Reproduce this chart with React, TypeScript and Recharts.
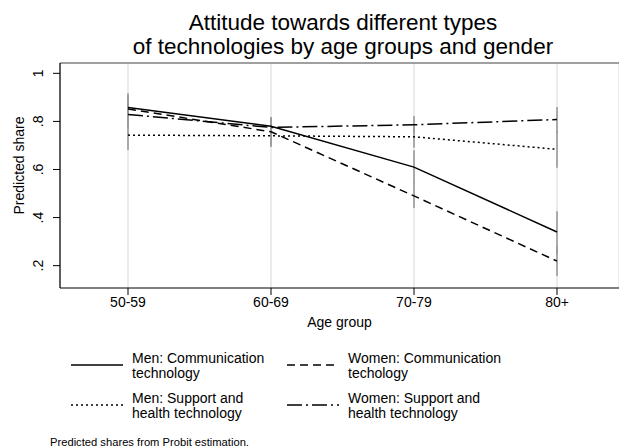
import React from 'react';
import { LineChart, Line, XAxis, YAxis, CartesianGrid, ErrorBar, ReferenceLine } from 'recharts';

const categories = ['50-59', '60-69', '70-79', '80+'];
const menComm = [0.858, 0.780, 0.610, 0.340];
const womenComm = [0.852, 0.757, 0.490, 0.219];
const menSupport = [0.743, 0.740, 0.736, 0.684];
const womenSupport = [0.829, 0.775, 0.786, 0.808];

const menCommLow = [0.80, 0.735, 0.545, 0.25];
const menCommHigh = [0.917, 0.818, 0.68, 0.426];
const womenCommLow = [0.79, 0.70, 0.44, 0.157];
const womenCommHigh = [0.91, 0.81, 0.55, 0.28];
const menSupportLow = [0.681, 0.694, 0.69, 0.607];
const menSupportHigh = [0.80, 0.785, 0.78, 0.76];
const womenSupportLow = [0.77, 0.73, 0.75, 0.75];
const womenSupportHigh = [0.89, 0.818, 0.823, 0.86];

const yTicks = [0.2, 0.4, 0.6, 0.8, 1];
const Y_MIN = 0.107;
const Y_MAX = 1.043;

const titleLines = ['Attitude towards different types', 'of technologies by age groups and gender'];

const seriesNames = [
  ['Men: Communication', 'technology'],
  ['Women: Communication', 'techology'],
  ['Men: Support and', 'health technology'],
  ['Women: Support and', 'health technology'],
];

const FONT = '"Liberation Sans", Arial, Helvetica, sans-serif';

const data = categories.map((c, i) => ({
  cat: c,
  mc: menComm[i],
  wc: womenComm[i],
  ms: menSupport[i],
  ws: womenSupport[i],
  mcErr: [menComm[i] - menCommLow[i], menCommHigh[i] - menComm[i]],
  wcErr: [womenComm[i] - womenCommLow[i], womenCommHigh[i] - womenComm[i]],
  msErr: [menSupport[i] - menSupportLow[i], menSupportHigh[i] - menSupport[i]],
  wsErr: [womenSupport[i] - womenSupportLow[i], womenSupportHigh[i] - womenSupport[i]],
}));

const fmtY = (v: number) => (v === 1 ? '1' : String(v).replace(/^0/, ''));

const YTick = (props: any) => {
  const { x, y, payload } = props;
  const bx = x - 8;
  return (
    <text x={bx} y={y} transform={`rotate(-90, ${bx}, ${y})`} textAnchor="middle" fontSize={14} fontFamily={FONT} fill="#000">
      {fmtY(payload.value)}
    </text>
  );
};

const styles = [
  { key: 'mc', dash: undefined },
  { key: 'wc', dash: '8 5' },
  { key: 'ms', dash: '2 3' },
  { key: 'ws', dash: '15 4 2 4' },
];

const LegendItem = ({ x, y, dash, lines }: any) => (
  <div style={{ position: 'absolute', left: x, top: y, width: 280, height: 32 }}>
    <svg width={60} height={32} style={{ position: 'absolute', left: 0, top: 0 }}>
      <line x1={0} x2={52} y1={15} y2={15} stroke="#000" strokeWidth={1.6} strokeDasharray={dash} />
    </svg>
    <div style={{ position: 'absolute', left: 61, top: 1, fontSize: 14, lineHeight: '15px', fontFamily: FONT, color: '#000', whiteSpace: 'nowrap' }}>
      {lines[0]}
      <br />
      {lines[1]}
    </div>
  </div>
);

export default function App() {
  return (
    <div style={{ position: 'absolute', left: 0, top: 0, width: 619, height: 448, background: '#fff', overflow: 'hidden' }}>
      <div style={{ position: 'absolute', left: 0, top: 11, width: 686, textAlign: 'center', fontSize: 22.5, lineHeight: '24px', fontFamily: FONT, color: '#000' }}>
        {titleLines[0]}
        <br />
        {titleLines[1]}
      </div>
      <div style={{ position: 'absolute', left: 0, top: 0 }}>
        <LineChart width={619} height={448} data={data} margin={{ top: 63, right: 0, bottom: 120, left: 0 }}>
          <CartesianGrid horizontal={false} vertical={true} stroke="#e4e4e4" strokeWidth={1.5} />
          <ReferenceLine y={Y_MAX} stroke="#808080" strokeWidth={1.5} ifOverflow="visible" />
          <XAxis
            dataKey="cat"
            padding={{ left: 68, right: 62 }}
            height={40}
            tickSize={7}
            tickLine={{ stroke: '#000' }}
            axisLine={{ stroke: '#000', strokeWidth: 1.2 }}
            tick={{ fontSize: 14, fontFamily: FONT, fill: '#000' }}
            interval={0}
            label={{ value: 'Age group', position: 'insideBottom', offset: 1, fontSize: 14, fontFamily: FONT, fill: '#000' }}
          />
          <YAxis
            type="number"
            domain={[Y_MIN, Y_MAX]}
            ticks={yTicks}
            width={60}
            tickSize={7}
            tickLine={{ stroke: '#000' }}
            axisLine={{ stroke: '#000', strokeWidth: 1.2 }}
            tick={<YTick />}
            allowDataOverflow
            label={{ value: 'Predicted share', angle: -90, position: 'insideLeft', offset: 19, dy: -10, style: { textAnchor: 'middle' }, fontSize: 14, fontFamily: FONT, fill: '#000' }}
          />
          {styles.map((s) => (
            <Line key={s.key + 'err'} dataKey={s.key} stroke="none" dot={false} activeDot={false} isAnimationActive={false} legendType="none">
              <ErrorBar dataKey={s.key + 'Err'} width={0} stroke="#9a9a9a" strokeWidth={1.6} direction="y" />
            </Line>
          ))}
          {styles.map((s) => (
            <Line
              key={s.key}
              dataKey={s.key}
              stroke="#000"
              strokeWidth={1.5}
              strokeDasharray={s.dash}
              dot={false}
              activeDot={false}
              isAnimationActive={false}
              type="linear"
            />
          ))}
        </LineChart>
      </div>
      <LegendItem x={71} y={350} dash={styles[0].dash} lines={seriesNames[0]} />
      <LegendItem x={287} y={350} dash={styles[1].dash} lines={seriesNames[1]} />
      <LegendItem x={71} y={390} dash={styles[2].dash} lines={seriesNames[2]} />
      <LegendItem x={287} y={390} dash={styles[3].dash} lines={seriesNames[3]} />
      <div style={{ position: 'absolute', left: 50, top: 436, fontSize: 11.2, fontFamily: FONT, color: '#000', whiteSpace: 'nowrap' }}>
        Predicted shares from Probit estimation.
      </div>
    </div>
  );
}
